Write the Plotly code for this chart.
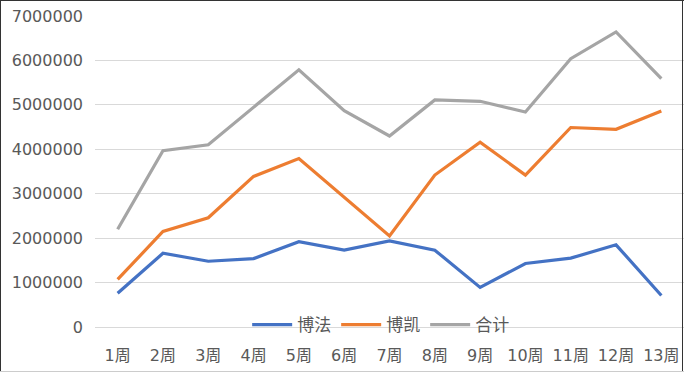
import plotly.graph_objects as go

weeks = ["1周", "2周", "3周", "4周", "5周", "6周", "7周", "8周", "9周", "10周", "11周", "12周", "13周"]
bofa = [760000, 1660000, 1480000, 1540000, 1920000, 1730000, 1940000, 1730000, 890000, 1430000, 1550000, 1850000, 710000]
bokai = [1070000, 2150000, 2460000, 3390000, 3790000, 2930000, 2050000, 3420000, 4160000, 3420000, 4490000, 4450000, 4860000]
total = [2200000, 3970000, 4100000, 4950000, 5790000, 4870000, 4300000, 5110000, 5080000, 4840000, 6040000, 6640000, 5590000]

names = ["博法", "博凯", "合计"]
colors = ["#4472C4", "#ED7D31", "#A5A5A5"]
series = [bofa, bokai, total]

fig = go.Figure()
for n, c, s in zip(names, colors, series):
    fig.add_trace(go.Scatter(x=weeks, y=s, name=n, mode="lines",
                             line=dict(color=c, width=3.2)))

font = "DejaVu Sans, Noto Sans CJK SC, sans-serif"
fig.update_layout(
    width=684, height=373,
    margin=dict(l=95, r=0, t=16, b=46),
    paper_bgcolor="white", plot_bgcolor="white",
    font=dict(family=font, size=16, color="#595959"),
    showlegend=True,
    legend=dict(orientation="h", x=0.485, xanchor="center", y=0.006, yanchor="middle",
                bgcolor="rgba(0,0,0,0)",
                font=dict(family="Noto Sans CJK SC, sans-serif", size=17, color="#595959"),
                itemwidth=40, tracegroupgap=0),
    xaxis=dict(type="category", range=[-0.5, 12.5], showgrid=False, zeroline=False,
               showline=False, ticks="", ticklabelstandoff=17, tickfont=dict(size=16)),
    yaxis=dict(range=[0, 7000000], dtick=1000000, tickformat="d",
               showgrid=True, gridcolor="#D9D9D9", gridwidth=1,
               zeroline=True, zerolinecolor="#D9D9D9", zerolinewidth=1,
               showline=False, ticks="", ticklabelstandoff=11, tickfont=dict(size=16)),
)

# outer frame
def px2x(p):
    return (p - 95) / 589
def py2y(p):
    return (327 - p) / 311

fig.add_shape(type="line", xref="paper", yref="paper", x0=px2x(0.5), x1=px2x(0.5), y0=py2y(0), y1=py2y(372), line=dict(color="#333333", width=1))
fig.add_shape(type="line", xref="paper", yref="paper", x0=px2x(0), x1=px2x(684), y0=py2y(0.5), y1=py2y(0.5), line=dict(color="#333333", width=1))
fig.add_shape(type="line", xref="paper", yref="paper", x0=px2x(682.5), x1=px2x(682.5), y0=py2y(0), y1=py2y(372), line=dict(color="#333333", width=1))
fig.add_shape(type="line", xref="paper", yref="paper", x0=px2x(0), x1=px2x(684), y0=py2y(371.5), y1=py2y(371.5), line=dict(color="#CCCCCC", width=1))

fig.write_html("out.html", config={"displayModeBar": False},
               post_script="document.body.style.margin='0';document.body.style.overflow='hidden';")
